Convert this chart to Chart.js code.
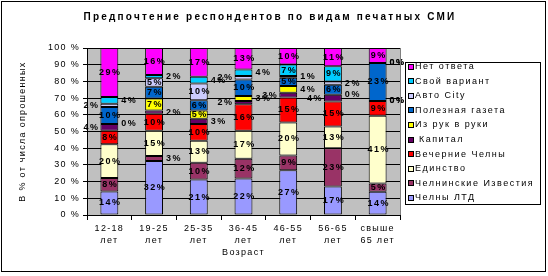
<!DOCTYPE html>
<html>
<head>
<meta charset="utf-8">
<script src="https://cdn.jsdelivr.net/npm/chart.js@4"></script>
<style>
html,body{margin:0;padding:0;background:#fff}
canvas{display:block}
</style>
</head>
<body>
<canvas id="chart" width="548" height="276"></canvas>
<script>
/* DATA */
const ageGroups = [['12-18','лет'],['19-25','лет'],['25-35','лет'],['36-45','лет'],['46-55','лет'],['56-65','лет'],['свыше','65 лет']];

// stack order, bottom to top
const chelnyLTD       = [14,32,21,22,27,17,14];
const chelnIzvestia   = [8,3,10,12,9,23,5];
const edinstvo        = [20,15,13,17,20,13,41];
const vechernieChelny = [8,10,10,16,15,15,9];
const kapital         = [4,2,3,2,3,4,0];
const izRukVRuki      = [0,7,5,3,4,0,0];
const poleznaya       = [10,7,6,10,5,6,23];
const avtoCity        = [2,5,10,2,1,2,0];
const svoyVariant     = [4,2,4,4,7,9,0];
const netOtveta       = [29,16,17,13,10,11,9];

const seriesNames  = ['Челны ЛТД','Челнинские Известия','Единство','Вечерние Челны',' Капитал','Из рук в руки','Полезная газета','Авто City','Свой вариант','Нет ответа'];
const seriesValues = [chelnyLTD,chelnIzvestia,edinstvo,vechernieChelny,kapital,izRukVRuki,poleznaya,avtoCity,svoyVariant,netOtveta];
const seriesColors = ['#9999FF','#993366','#FFFFCC','#FF0000','#660066','#FFFF00','#0066CC','#CCCCFF','#00CCFF','#FF00FF'];

const FONT = '"Liberation Sans", Arial, sans-serif';

// 100% stacked: each column scaled to its total
const totals = ageGroups.map((g,i) => seriesValues.reduce((s,a) => s + a[i], 0));

const datasets = seriesValues.map((vals,k) => ({
  label: seriesNames[k],
  raw: vals,
  data: vals.map((v,i) => v / totals[i] * 100),
  backgroundColor: seriesColors[k],
  borderColor: '#000',
  borderWidth: 1,
  borderSkipped: false,
  barPercentage: 0.4,
  categoryPercentage: 1
}));

/* PLUGINS */
const frame = {
  id: 'frame',
  beforeDraw(chart){
    const ctx = chart.ctx, a = chart.chartArea;
    ctx.save();
    ctx.fillStyle = '#fff';
    ctx.fillRect(0,0,chart.width,chart.height);
    ctx.fillStyle = '#C0C0C0';
    ctx.fillRect(a.left,a.top,a.right-a.left,a.bottom-a.top);
    ctx.strokeStyle = '#000';
    ctx.lineWidth = 1;
    ctx.strokeRect(1.5,1.5,544,270);
    ctx.fillStyle = '#000';
    ctx.font = 'bold 10px ' + FONT;
    ctx.letterSpacing = '2.2px';
    ctx.textAlign = 'center';
    ctx.textBaseline = 'middle';
    ctx.fillText('Предпочтение респондентов по видам печатных СМИ', 270, 17);
    ctx.restore();
    chart.ctx.letterSpacing = '1.3px';
  },
  afterDraw(chart){
    const ctx = chart.ctx, a = chart.chartArea;
    ctx.save();
    ctx.strokeStyle = '#808080';
    ctx.beginPath();
    ctx.moveTo(Math.round(a.right)+0.5, a.top);
    ctx.lineTo(Math.round(a.right)+0.5, a.bottom);
    ctx.stroke();
    // legend box
    ctx.strokeStyle = '#000';
    ctx.fillStyle = '#fff';
    ctx.fillRect(405.5,62.5,135,142);
    ctx.strokeRect(405.5,62.5,135,142);
    ctx.font = '9px ' + FONT;
    ctx.letterSpacing = '1.5px';
    ctx.textAlign = 'left';
    ctx.textBaseline = 'middle';
    const n = chart.data.datasets.length;
    for (let r = 0; r < n; r++) {
      const ds = chart.data.datasets[n-1-r];
      const y = 66.5 + r*14.6;
      ctx.fillStyle = ds.backgroundColor;
      ctx.fillRect(408.5, Math.round(y)-2.5, 5, 5);
      ctx.strokeRect(408.5, Math.round(y)-2.5, 5, 5);
      ctx.fillStyle = '#000';
      ctx.fillText(ds.label, 415, y);
    }
    ctx.restore();
  }
};

const barLabels = {
  id: 'barLabels',
  afterDatasetsDraw(chart){
    const ctx = chart.ctx;
    ctx.save();
    ctx.font = 'bold 9px ' + FONT;
    ctx.letterSpacing = '1.5px';
    ctx.fillStyle = '#000';
    ctx.textBaseline = 'middle';
    const n = chart.data.datasets.length;
    ageGroups.forEach((g,i) => {
      const used = {left:[], right:[]};
      for (let d = n-1; d >= 0; d--) {
        const v = chart.data.datasets[d].raw[i];
        const bar = chart.getDatasetMeta(d).data[i];
        const y = (bar.y + bar.base) / 2;
        const txt = v + '%';
        if (v >= 5) {
          ctx.textAlign = 'center';
          ctx.fillText(txt, bar.x + 1, y);
          continue;
        }
        let side = 'right';
        if (v > 0 && used.right.some(p => Math.abs(p - y) < 9)) side = 'left';
        used[side].push(y);
        if (side === 'right') {
          ctx.textAlign = 'left';
          ctx.fillText(txt, bar.x + bar.width/2 + 3, y);
        } else {
          ctx.textAlign = 'right';
          ctx.fillText(txt, bar.x - bar.width/2 - 1, y);
        }
      }
    });
    ctx.restore();
  }
};

/* CHART */
new Chart(document.getElementById('chart'), {
  type: 'bar',
  data: { labels: ageGroups, datasets: datasets },
  options: {
    responsive: false,
    animation: false,
    layout: { padding: { left: 0, top: 48, right: 148, bottom: 0 } },
    plugins: { legend: { display: false }, tooltip: { enabled: false } },
    scales: {
      x: {
        stacked: true,
        grid: { offset: true, drawOnChartArea: false, color: '#000', tickLength: 5 },
        border: { color: '#000' },
        ticks: { color: '#000', font: { size: 9, family: FONT, lineHeight: 1.4 }, padding: 2, maxRotation: 0, autoSkip: false },
        title: { display: true, text: 'Возраст', color: '#000', font: { size: 9, family: FONT }, padding: { top: 0, bottom: 18 } },
        afterFit(s){ s.height = 61; }
      },
      y: {
        stacked: true,
        min: 0, max: 100,
        grid: { color: '#000', tickLength: 4 },
        border: { color: '#000' },
        ticks: { stepSize: 10, color: '#000', font: { size: 9, family: FONT }, padding: 3, callback: v => v + ' %' },
        title: { display: true, text: 'В % от числа опрошенных', color: '#000', font: { size: 9, family: FONT }, padding: { top: 17 } },
        afterFit(s){ s.width = 87; }
      }
    }
  },
  plugins: [frame, barLabels]
});
</script>
</body>
</html>
